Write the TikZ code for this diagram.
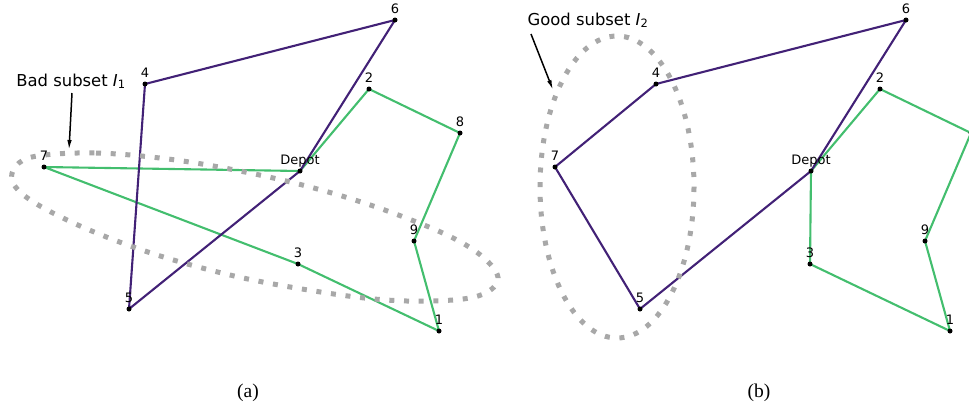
\documentclass[tikz,border=0pt]{standalone}
\usepackage{fontspec}
\setmainfont{Liberation Serif}
\newfontfamily\labelfont{DejaVu Sans}
\usetikzlibrary{arrows.meta}
\definecolor{routepurple}{RGB}{66,33,118}
\definecolor{routegreen}{RGB}{67,190,110}
\definecolor{subsetgray}{RGB}{168,168,168}
\tikzset{
  pt/.style={circle,fill=black,inner sep=0pt,minimum size=5pt},
  lbl/.style={anchor=base,inner sep=0pt,font=\labelfont\fontsize{13}{15}\selectfont},
  purpleroute/.style={draw=routepurple,line width=2.1pt,line join=round},
  greenroute/.style={draw=routegreen,line width=2.1pt,line join=round},
  subset/.style={draw=subsetgray,line width=5pt,dash pattern=on 5pt off 9.7pt},
  annot/.style={anchor=base,inner sep=0pt,font=\labelfont\fontsize{16.4}{19}\selectfont},
  annotarrow/.style={draw=black,line width=1.5pt,-{Latex[length=10pt,width=4.5pt]}},
  captionlbl/.style={anchor=base,inner sep=0pt,font=\fontsize{19.5}{22}\selectfont}
}
\begin{document}
\begin{tikzpicture}[x=1pt,y=-1pt]
\useasboundingbox (0,0) rectangle (969,408);
% ---------- panel (a) ----------
\coordinate (a6) at (395,20);
\coordinate (a4) at (145,84);
\coordinate (a2) at (369,89);
\coordinate (a8) at (460,133);
\coordinate (a7) at (44,167);
\coordinate (ad) at (300,171);
\coordinate (a9) at (414,241);
\coordinate (a3) at (298,264);
\coordinate (a5) at (129,309);
\coordinate (a1) at (439,331);
\draw[greenroute] (ad) -- (a7) -- (a3) -- (a1) -- (a9) -- (a8) -- (a2) -- cycle;
\draw[purpleroute] (ad) -- (a6) -- (a4) -- (a5) -- cycle;
\draw[subset] plot[smooth cycle,tension=0.6] coordinates {
 (37,156) (96,153) (168,159) (240,171) (310,187) (379,208) (447,235) (484,258)
 (498,280) (478,296) (432,301) (374,299) (302,289) (230,275) (154,254) (87,229)
 (35,203) (13,183) (16,166)};
\foreach \n/\t in {a6/6,a4/4,a2/2,a8/8,a7/7,ad/Depot,a9/9,a3/3,a5/5,a1/1}{
  \node[pt] (p\n) at (\n) {};
  \node[lbl] (l\n) at ([yshift=6.5pt]\n) {\t};
}
\node[annot] (bad) at (71,86) {Bad subset \textit{I}\textsubscript{1}};
\coordinate (badtip) at (69,150);
\draw[annotarrow] ([shift={(1pt,-7pt)}]bad.base) -- (badtip);
% ---------- panel (b) ----------
\coordinate (b6) at (906,20);
\coordinate (b4) at (656,84);
\coordinate (b2) at (880,89);
\coordinate (b8) at (971,133);
\coordinate (b7) at (555,167);
\coordinate (bd) at (811,171);
\coordinate (b9) at (925,241);
\coordinate (b3) at (810,264);
\coordinate (b5) at (640,309);
\coordinate (b1) at (950,331);
\draw[greenroute] (bd) -- (b2) -- (b8) -- (b9) -- (b1) -- (b3) -- cycle;
\draw[purpleroute] (bd) -- (b6) -- (b4) -- (b7) -- (b5) -- cycle;
\draw[subset] (617,187) ellipse [x radius=77, y radius=151];
\foreach \n/\t in {b6/6,b4/4,b2/2,b7/7,bd/Depot,b9/9,b3/3,b5/5,b1/1}{
  \node[pt] (p\n) at (\n) {};
  \node[lbl] (l\n) at ([yshift=6.5pt]\n) {\t};
}
\node[pt] (pb8) at (b8) {};
\node[annot] (good) at (588,25) {Good subset \textit{I}\textsubscript{2}};
\coordinate (goodtail) at (531,34);
\coordinate (goodtip) at (553,90);
\draw[annotarrow] (goodtail) -- (goodtip);
% ---------- captions ----------
\node[captionlbl] (capa) at (248,397) {(a)};
\node[captionlbl] (capb) at (759,397) {(b)};
\end{tikzpicture}
\end{document}
